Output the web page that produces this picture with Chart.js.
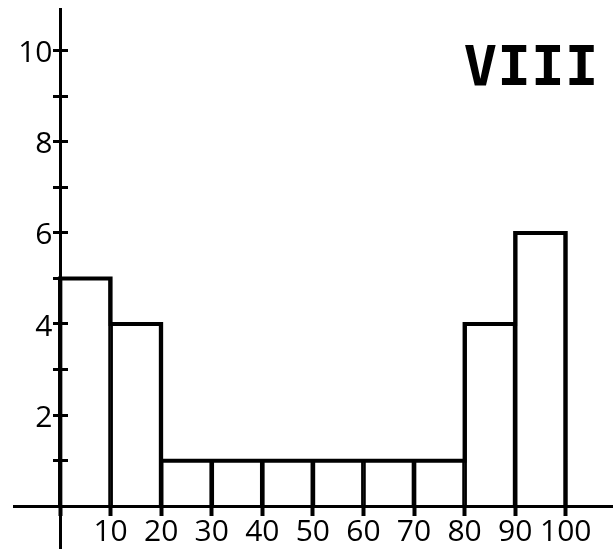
<!DOCTYPE html>
<html>
<head>
<meta charset="utf-8">
<script src="https://cdn.jsdelivr.net/npm/chart.js@4.4.1/dist/chart.umd.min.js"></script>
<style>
  html, body { margin: 0; padding: 0; background: #fff; overflow: hidden; }
  #wrap { width: 613px; height: 549px; position: relative; }
</style>
</head>
<body>
<div id="wrap"><canvas id="chart"></canvas></div>
<script>
// histogram bins and counts
const binEdges = [0, 10, 20, 30, 40, 50, 60, 70, 80, 90, 100];
const counts = [5, 4, 1, 1, 1, 1, 1, 1, 4, 6];
const yTickLabels = [2, 4, 6, 8, 10];
const xTickLabels = [10, 20, 30, 40, 50, 60, 70, 80, 90, 100];
const titleText = "VIII";

const X_MIN = -9.1, X_MAX = 109.35;
const Y_MIN = -0.94, Y_MAX = 10.915;
const Y_LABEL_X = -1.5; // y labels sit a little left of the axis

// bar centres and the stepped outline on top of the bars
const barData = counts.map((c, i) => ({ x: (binEdges[i] + binEdges[i + 1]) / 2, y: c }));
const outline = [{ x: binEdges[0], y: 0 }];
counts.forEach((c, i) => {
  outline.push({ x: binEdges[i], y: c });
  outline.push({ x: binEdges[i + 1], y: c });
});
outline.push({ x: binEdges[binEdges.length - 1], y: 0 });

const titlePlugin = {
  id: "romanTitle",
  afterDraw(chart) {
    const c = chart.ctx;
    c.save();
    c.font = "bold 56px 'DejaVu Sans Mono'";
    c.fillStyle = "#000";
    c.textAlign = "center";
    c.textBaseline = "middle";
    c.fillText(titleText, 531, 70);
    c.restore();
  },
};

// y scales share the same range; only tick marks / labels differ
function yScale(extra) {
  return Object.assign({
    type: "linear",
    min: Y_MIN,
    max: Y_MAX,
    position: { x: 0 },
    border: { display: false },
  }, extra);
}
const noLabels = { stepSize: 1, includeBounds: false, autoSkip: false, padding: 0,
  font: { size: 1, lineHeight: 0 }, callback: () => "" };

const ctx = document.getElementById("chart").getContext("2d");
const chart = new Chart(ctx, {
  data: {
    datasets: [
      {
        type: "line",
        data: outline,
        borderColor: "#000",
        borderWidth: 4,
        borderJoinStyle: "miter",
        pointRadius: 0,
        tension: 0,
        fill: false,
        order: 0,
      },
      {
        type: "bar",
        data: barData,
        backgroundColor: "rgba(0,0,0,0)",
        borderColor: "#000",
        borderWidth: { left: 2, right: 2, top: 0, bottom: 0 },
        barPercentage: 1,
        categoryPercentage: 1,
        order: 1,
      },
    ],
  },
  options: {
    responsive: true,
    maintainAspectRatio: false,
    animation: false,
    layout: { padding: { left: 14, top: 9, right: 0, bottom: 0 } },
    scales: {
      x: {
        type: "linear",
        min: X_MIN,
        max: X_MAX,
        offset: false,
        position: { y: 0 },
        border: { display: true, color: "#000", width: 3 },
        grid: { offset: false, drawOnChartArea: false, tickLength: 8, tickWidth: 4, tickColor: "#000" },
        ticks: {
          stepSize: 10,
          includeBounds: false,
          autoSkip: false,
          maxRotation: 0,
          minRotation: 0,
          padding: 0,
          color: "#000",
          font: { family: "'Open Sans'", size: 30 },
          callback: (v) => (xTickLabels.includes(v) ? String(v) : ""),
        },
      },
      y: yScale({
        border: { display: true, color: "#000", width: 3 },
        grid: { drawOnChartArea: false, tickLength: 6, tickWidth: 3, tickColor: "#000" },
        ticks: noLabels,
      }),
      yTicksRight: yScale({
        grid: { drawOnChartArea: false, tickLength: -8, tickWidth: 3, tickColor: "#000" },
        ticks: noLabels,
      }),
      yLabels: yScale({
        position: { x: Y_LABEL_X },
        grid: { drawOnChartArea: false, drawTicks: false },
        ticks: {
          stepSize: 1,
          includeBounds: false,
          autoSkip: false,
          padding: 0,
          labelOffset: 3,
          color: "#000",
          font: { family: "'Open Sans'", size: 30, lineHeight: 0 },
          callback: (v) => (yTickLabels.includes(v) ? String(v) : ""),
        },
      }),
    },
    plugins: {
      legend: { display: false },
      tooltip: { enabled: false },
    },
  },
  plugins: [titlePlugin],
});
</script>
</body>
</html>
